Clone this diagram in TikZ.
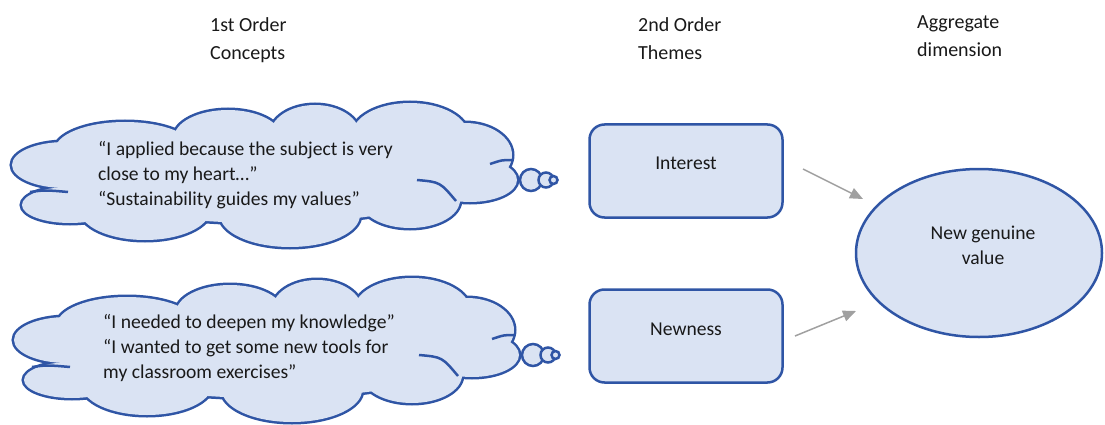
\documentclass[tikz,border=0pt]{standalone}
\usepackage{fontspec}
\setmainfont{Carlito}
\usetikzlibrary{arrows.meta,shapes.geometric}
\definecolor{lineblue}{RGB}{47,85,165}
\definecolor{fillblue}{RGB}{218,227,243}
\definecolor{arrowgray}{RGB}{160,160,160}
\definecolor{txt}{RGB}{25,25,25}
\newcommand\cloudlobes{65/165/53/23, 70/205/48/18, 125/150/70/28, 228/138/54/28, 315/135/45/30, 410/135/58/32, 465/155/47/32, 470/180/47/22, 410/200/50/28, 290/215/70/32, 145/210/65/30, 265/178/200/45}
\newcommand\drawcloud[2]{%
  \begin{scope}[shift={(#1,#2)}]
    \foreach \cx/\cy/\rx/\ry in \cloudlobes
      \draw[lineblue, line width=5pt] (\cx,\cy) ellipse [x radius=\rx, y radius=\ry];
    \foreach \cx/\cy/\rx/\ry in \cloudlobes
      \fill[fillblue] (\cx,\cy) ellipse [x radius=\rx, y radius=\ry];
    \draw[cloudinner] (30,192) .. controls (45,190) .. (68,192);
    \draw[cloudinner] (417,180) .. controls (440,182) .. (456,201);
    \draw[cloudinner] (512,160) .. controls (502,160) .. (490,164);
    \foreach \bx/\br in {531/11, 546/7.5, 553.5/4}
      \draw[lineblue, line width=2.5pt, fill=fillblue] (\bx,180) circle [radius=\br];
  \end{scope}}
\tikzset{
  cloudinner/.style={lineblue, line width=2.5pt},
  header/.style={text=txt, font=\fontsize{20}{28}\selectfont, align=left, anchor=north west, inner sep=0pt},
  quote/.style={text=txt, font=\fontsize{19.6}{25}\selectfont, align=left, anchor=west, inner sep=0pt},
  themebox/.style={draw=lineblue, fill=fillblue, line width=2.5pt, rounded corners=15pt, minimum width=193pt, minimum height=93pt, inner sep=0pt},
  boxtext/.style={text=txt, font=\fontsize{19.6}{25}\selectfont, align=center, inner sep=0pt},
  aggshape/.style={ellipse, draw=lineblue, fill=fillblue, line width=2.5pt, minimum width=246pt, minimum height=168pt, inner sep=0pt},
  link/.style={arrowgray, line width=1.5pt, -{Triangle[length=13pt,width=11pt]}}
}
\begin{document}
\begin{tikzpicture}[x=1pt,y=-1pt]
\useasboundingbox (0,0) rectangle (1105,425);
% headers
\node[header] (h1) at (210,17) {1st Order\\Concepts};
\node[header] (h2) at (638,17) {2nd Order\\Themes};
\node[header] (h3) at (917,15) {Aggregate\\dimension};
% clouds
\drawcloud{0}{0}
\drawcloud{2}{175}
\node[quote] (q1) at (98,175) {“I applied because the subject is very\\close to my heart…”\\“Sustainability guides my values”};
\node[quote] (q2) at (103,348) {“I needed to deepen my knowledge”\\“I wanted to get some new tools for\\my classroom exercises”};
% theme boxes
\node[themebox] (interest) at (686,171) {};
\node[boxtext] (interestlbl) at (686,163) {Interest};
\node[themebox] (newness) at (686,336) {};
\node[boxtext] (newnesslbl) at (686,329) {Newness};
% aggregate
\node[aggshape] (value) at (979,253) {};
\node[boxtext] (valuelbl) at (983,245) {New genuine\\value};
% arrows
\coordinate (a1s) at (803,169);
\coordinate (a1e) at (863,199);
\coordinate (a2s) at (795,336);
\coordinate (a2e) at (856,311);
\draw[link] (a1s) -- (a1e);
\draw[link] (a2s) -- (a2e);
\end{tikzpicture}
\end{document}
